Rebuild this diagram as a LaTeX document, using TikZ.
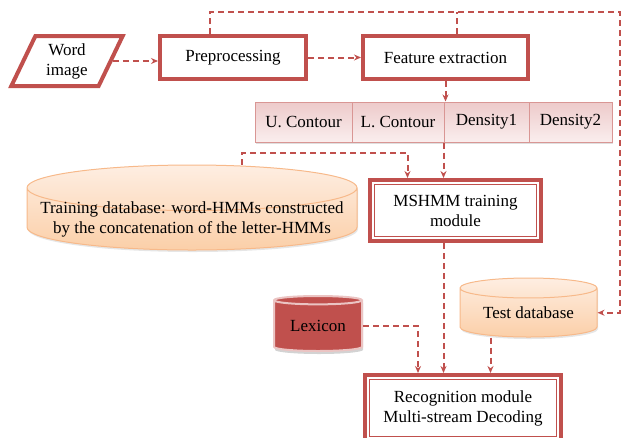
\documentclass[tikz,border=0pt]{standalone}
\usepackage{fontspec}
\setmainfont{Liberation Serif}
\usetikzlibrary{arrows.meta,shapes,shadows}

\definecolor{boxred}{HTML}{C0504D}
\definecolor{featline}{HTML}{D99694}
\definecolor{feattop}{HTML}{EDCACA}
\definecolor{featbot}{HTML}{FAEEEE}
\definecolor{dbline}{HTML}{F7B98A}
\definecolor{dbtop}{HTML}{FEEEE2}
\definecolor{dbbot}{HTML}{FBCFA8}
\definecolor{lexline}{HTML}{EBC4C3}

\begin{document}
\begin{tikzpicture}[x=1pt,y=-1pt,>={Stealth[length=7pt,width=6pt]},font=\fontsize{17}{20}\selectfont,
    procbox/.style={draw=boxred,line width=4pt,align=center,inner sep=0pt},
    featbox/.style={draw=featline,line width=1pt,top color=feattop,bottom color=featbot,
        minimum height=40pt,inner sep=0pt,
        drop shadow={opacity=.25,shadow xshift=1pt,shadow yshift=-1.5pt}},
    db/.style={cylinder,shape border rotate=90,anchor=shape center,draw=dbline,line width=1pt,
        top color=dbtop,bottom color=dbbot,align=center,inner sep=0pt,
        drop shadow={opacity=.2,shadow xshift=1pt,shadow yshift=-2pt}},
    link/.style={draw=boxred,line width=2pt,dash pattern=on 6pt off 4pt},
    innerline/.style={draw=boxred,line width=1.2pt}]
    \useasboundingbox (0,0) rectangle (623,437);

    \node[trapezium,trapezium left angle=66,trapezium right angle=114,trapezium stretches=true,
        draw=boxred,line width=4pt,minimum width=112pt,minimum height=50pt,align=center,
        inner sep=0pt](wimg)at(67, 61){Word\\image};
    \node[procbox,minimum width=146pt,minimum height=43pt](prep)at(233, 57.5){Preprocessing};
    \node[procbox,minimum width=165pt,minimum height=43pt](feat)at(445.5, 57.5){Feature extraction};

    \node[featbox,minimum width=97pt](uc)at(303.5, 122){U. Contour};
    \node[featbox,minimum width=92pt](lc)at(398, 122){L. Contour};
    \node[featbox,minimum width=85pt](d1)at(486.5, 122){Density1};
    \node[featbox,minimum width=83pt](d2)at(570.5, 122){Density2};

    \node[db,aspect=0.15,inner ysep=-10pt,minimum width=330pt,minimum height=85pt](train)at(192, 207.5)
        {Training database: word-HMMs constructed\\by the concatenation of the letter-HMMs};
    \node[procbox,minimum width=171pt,minimum height=61pt](msh)at(455.5, 210.5){MSHMM training\\module};

    \node[cylinder,shape border rotate=90,anchor=shape center,aspect=0.15,draw=lexline,line width=2pt,
        fill=boxred,minimum width=88pt,minimum height=55pt,inner sep=0pt,
        drop shadow={opacity=.35,shadow xshift=1pt,shadow yshift=-3pt}](lex)at(318, 323.5){Lexicon};
    \node[db,aspect=0.22,minimum width=137pt,minimum height=59pt](test)at(528.5, 307.5){Test database};
    \node[procbox,minimum width=196pt,minimum height=66pt](rec)at(463, 408)
        {Recognition module\\Multi-stream Decoding};

    \foreach \b in {msh,rec}
        \draw[innerline] ([shift={(6.5pt,-6.5pt)}]\b.north west) rectangle ([shift={(-6.5pt,6.5pt)}]\b.south east);

    \coordinate (turn) at (620, 12);
    \draw[link,->] (wimg.east) -- (prep.west |- wimg.east);
    \draw[link,->] (prep.east) -- (feat.west);
    \draw[link,->] ([xshift=-23pt]prep.north) |- (turn) |- (test.east);
    \draw[link] ([xshift=11.5pt]feat.north) -- ([xshift=11.5pt]feat.north |- turn);
    \draw[link,->] (feat.south) -- (feat.south |- d1.north);
    \draw[link,->] ([xshift=50pt]train.north) -- ++(0,-12) -| ([xshift=-48pt]msh.north);
    \draw[link,->] (d1.south west) -- (d1.south west |- msh.north);
    \draw[link,->] ([xshift=-12pt]msh.south) -- ([xshift=-12pt]msh.south |- rec.north);
    \draw[link,->] (lex.east) -| ([xshift=-45pt]rec.north);
    \draw[link,->] ([xshift=-38pt]test.south) -- ([xshift=-38pt]test.south |- rec.north);
\end{tikzpicture}
\end{document}
